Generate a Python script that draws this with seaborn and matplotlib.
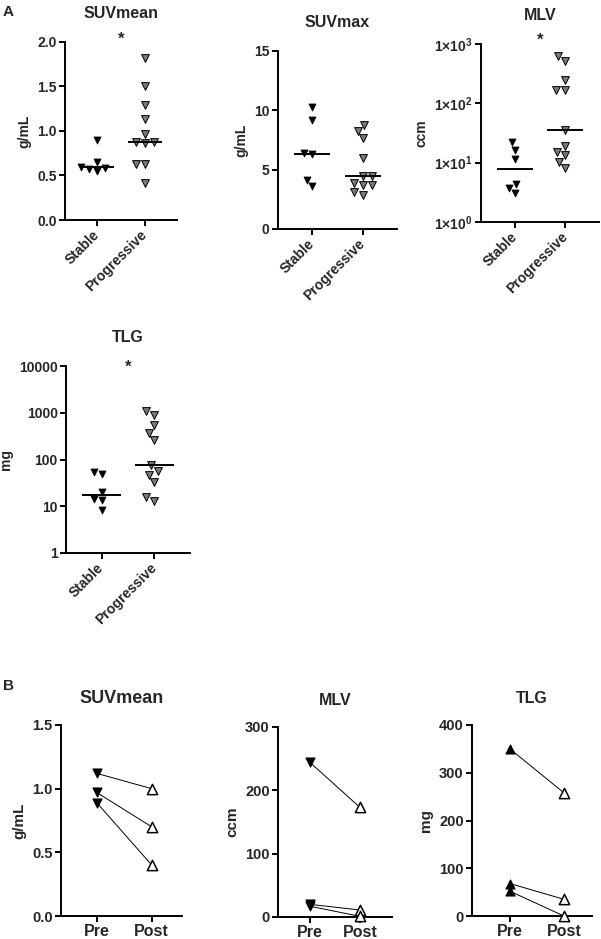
import numpy as np
import pandas as pd
import matplotlib
matplotlib.use("Agg")
import matplotlib.pyplot as plt
import seaborn as sns
from matplotlib.ticker import FixedLocator, FixedFormatter, NullLocator

# ---------------- data ----------------
groups = ["Stable", "Progressive"]
suvmean_stable = [0.90, 0.65, 0.60, 0.58, 0.57, 0.55]
suvmean_prog = [1.82, 1.50, 1.29, 1.13, 0.97, 0.88, 0.88, 0.87, 0.63, 0.63, 0.42]
suvmax_stable = [10.3, 9.2, 6.4, 6.3, 4.1, 3.6]
suvmax_prog = [8.8, 8.3, 7.7, 6.0, 4.5, 4.5, 3.9, 3.7, 3.7, 3.1, 2.9]
mlv_stable = [22.0, 16.5, 11.6, 4.3, 3.7, 3.05]
mlv_prog = [635, 523, 250, 165, 165, 35.7, 19.4, 15.4, 13.5, 10.2, 8.05]
tlg_stable = [55, 48, 20.6, 14.4, 13.3, 8.4]
tlg_prog = [1080, 890, 543, 372, 261, 76, 57, 46.8, 32.6, 16.1, 13.2]

timepoints = ["Pre", "Post"]
b_suvmean_pre = [1.12, 0.97, 0.89]
b_suvmean_post = [1.00, 0.70, 0.40]
b_mlv_pre = [244, 20, 17]
b_mlv_post = [173, 11, 1]
b_tlg_pre = [350, 68, 52]
b_tlg_post = [258, 35, 0]

# ---------------- style ----------------
sns.set_style("ticks")
plt.rcParams["font.family"] = ["Liberation Sans", "DejaVu Sans"]
plt.rcParams["font.weight"] = "bold"
plt.rcParams["mathtext.fontset"] = "custom"
plt.rcParams["mathtext.rm"] = "Liberation Sans:bold"
plt.rcParams["mathtext.bf"] = "Liberation Sans:bold"
plt.rcParams["mathtext.it"] = "Liberation Sans:bold"

W, H = 601, 939
fig = plt.figure(figsize=(W / 100, H / 100), dpi=100)

GREY = "#7a7a7a"


def make_ax(left, right, top, bottom):
    return fig.add_axes([left / W, 1 - bottom / H, (right - left) / W, (bottom - top) / H])


def style_ax(ax, tick_fs):
    sns.despine(ax=ax)
    for s in ("left", "bottom"):
        ax.spines[s].set_linewidth(1.4)
        ax.spines[s].set_color("black")
    ax.tick_params(axis="both", direction="out", length=4, width=1.4, color="black",
                   labelsize=tick_fs, pad=2)
    for lab in ax.get_yticklabels():
        lab.set_fontweight("bold")


def scatter_panel(ax, stable, prog, title, ylabel, ylim, yticks, ylabels=None,
                  log=False, star=None):
    if log:
        ax.set_yscale("log")
    ax.set_ylim(*ylim)
    df = pd.DataFrame({
        "group": ["Stable"] * len(stable) + ["Progressive"] * len(prog),
        "value": list(stable) + list(prog),
    })
    sns.swarmplot(data=df[df.group == "Stable"], x="group", y="value", order=groups,
                  color="black", marker="v", size=5.0, edgecolor="black", linewidth=0.6,
                  ax=ax, clip_on=False)
    sns.swarmplot(data=df[df.group == "Progressive"], x="group", y="value", order=groups,
                  color=GREY, marker="v", size=5.6, edgecolor="black", linewidth=0.7,
                  ax=ax, clip_on=False)
    for i, vals in enumerate([stable, prog]):
        ax.hlines(np.median(vals), i - 0.36, i + 0.36, color="black", lw=1.4, zorder=5)
    ax.set_xlim(-0.67, 1.67)
    ax.set_ylim(*ylim)
    ax.yaxis.set_major_locator(FixedLocator(yticks))
    ax.yaxis.set_minor_locator(NullLocator())
    if ylabels is not None:
        ax.yaxis.set_major_formatter(FixedFormatter(ylabels))
    ax.set_xticks([0, 1])
    ax.set_xticklabels(groups, rotation=45, ha="right", va="center",
                       rotation_mode="anchor", fontsize=10, fontweight="bold")
    ax.set_xlabel("")
    ax.set_ylabel(ylabel, fontsize=10, fontweight="bold", labelpad=4)
    ax.set_title(title, fontsize=11.5, fontweight="bold", pad=17)
    style_ax(ax, 10)
    ax.tick_params(axis="x", pad=5)
    if star is not None:
        ax.text(0.5, star, "*", ha="center", va="center", fontsize=12,
                fontweight="bold", clip_on=False)


def paired_panel(ax, pre, post, title, ylabel, ylim, yticks, pre_marker, title_fs=11.5):
    rows = []
    for k, (a, b) in enumerate(zip(pre, post)):
        rows.append({"pair": k, "x": 0, "value": a, "time": "Pre"})
        rows.append({"pair": k, "x": 1, "value": b, "time": "Post"})
    df = pd.DataFrame(rows)
    sns.lineplot(data=df, x="x", y="value", units="pair", estimator=None,
                 color="black", lw=0.7, ax=ax, legend=False, zorder=2)
    sns.scatterplot(data=df[df.time == "Pre"], x="x", y="value", marker=pre_marker,
                    color="black", edgecolor="black", s=42, linewidth=0.8, ax=ax,
                    zorder=4, clip_on=False, legend=False)
    sns.scatterplot(data=df[df.time == "Post"], x="x", y="value", marker="^",
                    color="white", edgecolor="black", s=55, linewidth=1.1, ax=ax,
                    zorder=4, clip_on=False, legend=False)
    ax.set_ylim(*ylim)
    ax.set_yticks(yticks)
    ax.yaxis.set_minor_locator(NullLocator())
    ax.set_xticks([0, 1])
    ax.set_xticklabels(timepoints, fontsize=11.5, fontweight="bold")
    ax.set_xlabel("")
    ax.set_ylabel(ylabel, fontsize=11, fontweight="bold", labelpad=4)
    ax.set_title(title, fontsize=title_fs, fontweight="bold", pad=16)
    style_ax(ax, 10.5)
    ax.tick_params(axis="x", labelsize=11.5)


# ---------------- panel A ----------------
ax1 = make_ax(65, 177, 42, 220)
scatter_panel(ax1, suvmean_stable, suvmean_prog, "SUVmean", "g/mL", (0, 2.0),
              [0, 0.5, 1.0, 1.5, 2.0], ["0.0", "0.5", "1.0", "1.5", "2.0"], star=2.03)

ax2 = make_ax(278, 397, 51, 229)
scatter_panel(ax2, suvmax_stable, suvmax_prog, "SUVmax", "g/mL", (0, 15),
              [0, 5, 10, 15], ["0", "5", "10", "15"])

ax3 = make_ax(481, 599, 44, 222)
scatter_panel(ax3, mlv_stable, mlv_prog, "MLV", "ccm", (1, 1000),
              [1, 10, 100, 1000],
              [r"$\mathbf{1{\times}10^{0}}$", r"$\mathbf{1{\times}10^{1}}$",
               r"$\mathbf{1{\times}10^{2}}$", r"$\mathbf{1{\times}10^{3}}$"],
              log=True, star=1150)

ax4 = make_ax(66, 190, 366, 553)
scatter_panel(ax4, tlg_stable, tlg_prog, "TLG", "mg", (1, 10000),
              [1, 10, 100, 1000, 10000], ["1", "10", "100", "1000", "10000"],
              log=True, star=9500)

# ---------------- panel B ----------------
bx1 = make_ax(61, 182, 725, 916)
paired_panel(bx1, b_suvmean_pre, b_suvmean_post, "SUVmean", "g/mL", (0, 1.5),
             [0, 0.5, 1.0, 1.5], "v", title_fs=13)
bx1.set_yticklabels(["0.0", "0.5", "1.0", "1.5"], fontweight="bold")
bx1.set_xlim(-0.65, 1.55)

bx2 = make_ax(278, 392, 727, 917)
paired_panel(bx2, b_mlv_pre, b_mlv_post, "MLV", "ccm", (0, 300), [0, 100, 200, 300], "v")
bx2.set_xlim(-0.64, 1.64)

bx3 = make_ax(472, 592, 725, 916)
paired_panel(bx3, b_tlg_pre, b_tlg_post, "TLG", "mg", (0, 400), [0, 100, 200, 300, 400], "^")
bx3.set_xlim(-0.70, 1.52)

fig.text(3 / W, 1 - 12 / H, "A", fontsize=11, fontweight="bold", va="center")
fig.text(3 / W, 1 - 686 / H, "B", fontsize=11, fontweight="bold", va="center")

fig.savefig("out.png", dpi=100, facecolor="white")
